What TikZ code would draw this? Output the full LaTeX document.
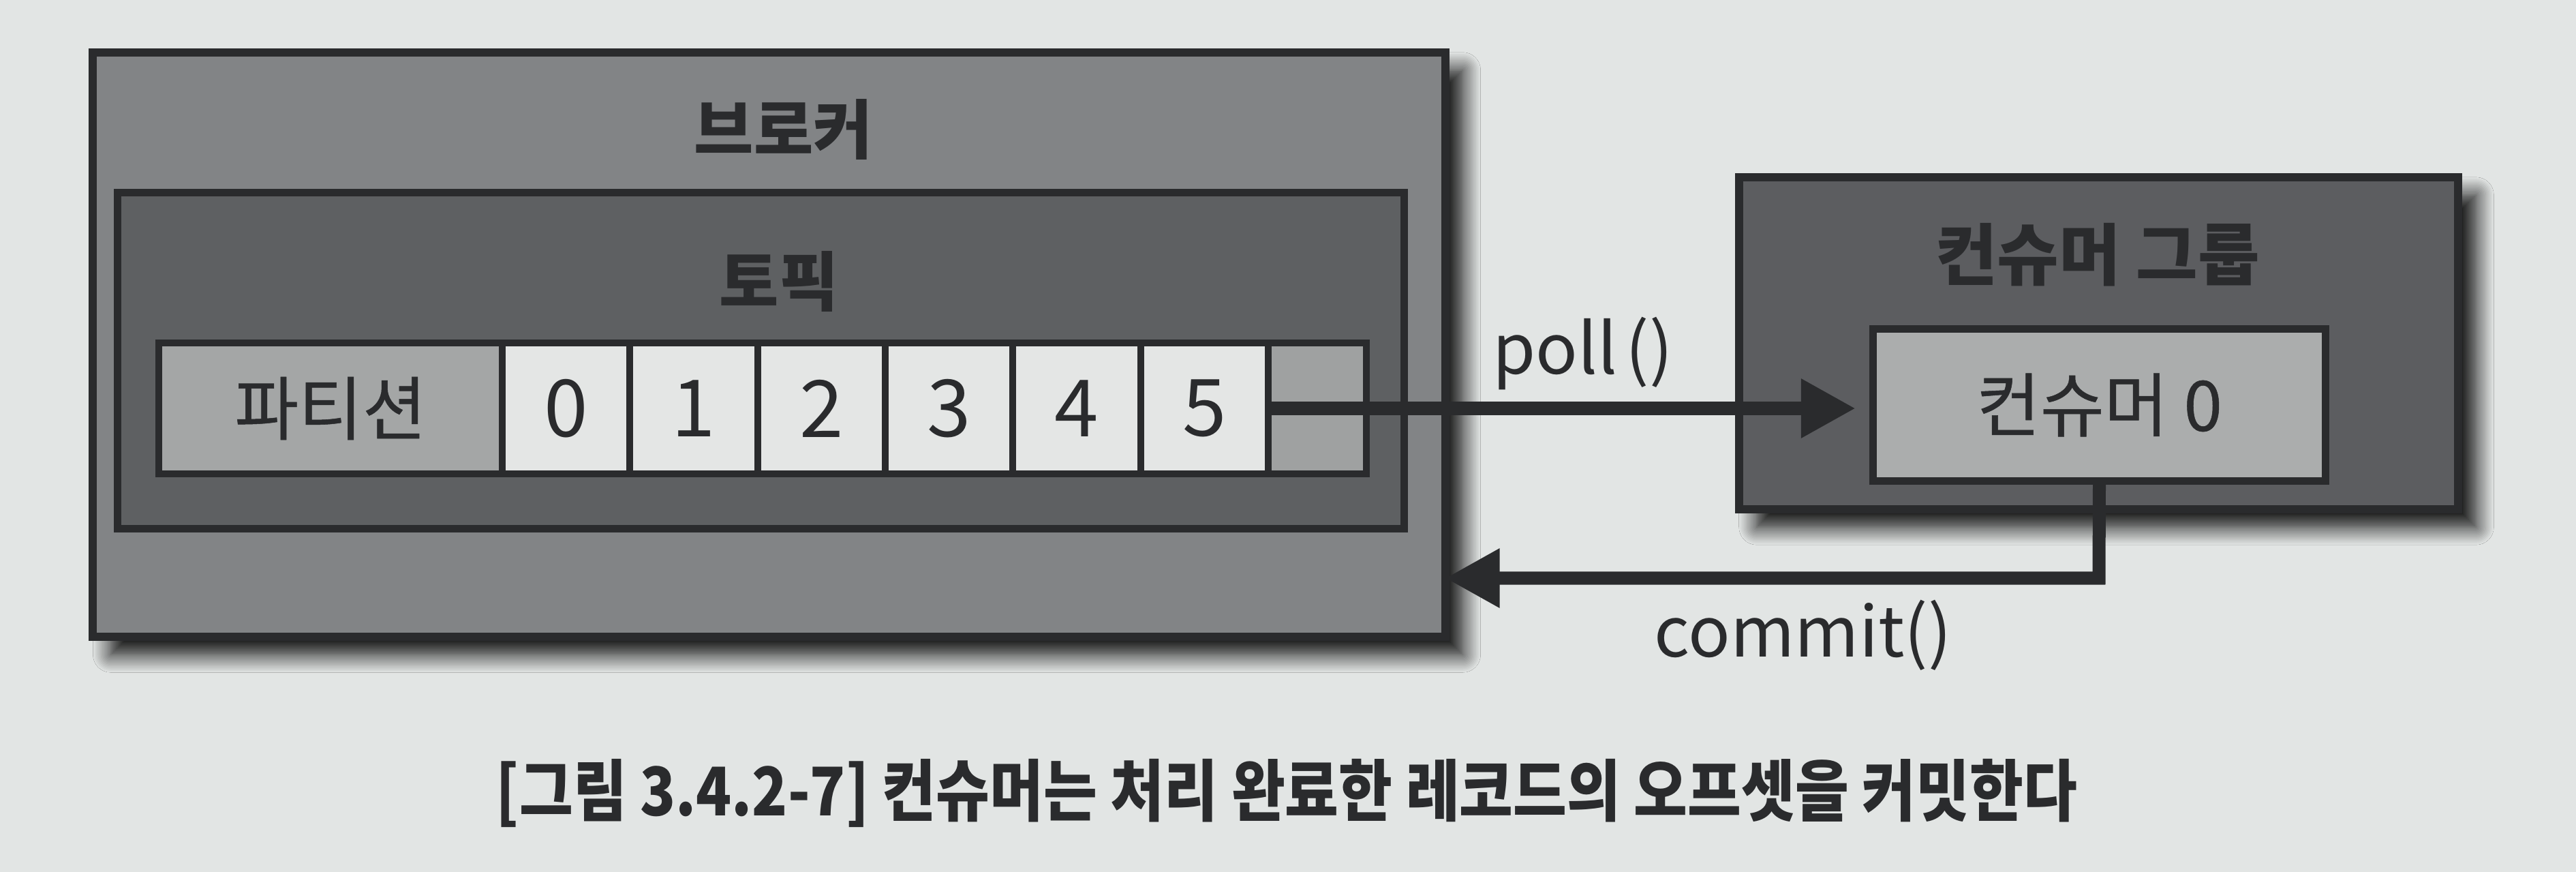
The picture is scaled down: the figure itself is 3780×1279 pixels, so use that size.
\documentclass[tikz,border=0pt]{standalone}
\usepackage{fontspec}
\usepackage{graphicx}
\setmainfont{Noto Sans CJK KR}
\newfontfamily\medfont[FakeBold=0.5]{Noto Sans CJK KR}
\usetikzlibrary{arrows.meta,shadows.blur}
\definecolor{paper}{HTML}{E2E5E4}
\definecolor{ink}{HTML}{2A2B2D}
\definecolor{brokerfill}{HTML}{828486}
\definecolor{topicfill}{HTML}{5E6062}
\definecolor{labelfill}{HTML}{A4A6A6}
\definecolor{cellfill}{HTML}{E4E6E5}
\definecolor{emptyfill}{HTML}{9FA1A1}
\definecolor{groupfill}{HTML}{5C5D60}
\definecolor{consfill}{HTML}{ABADAD}
\begin{document}
\begin{tikzpicture}[x=0.01cm,y=-0.01cm,
  box/.style={draw=ink, inner sep=0pt},
  shad/.style={blur shadow={shadow xshift=0.26cm, shadow yshift=-0.26cm, shadow blur radius=0.26cm, shadow blur steps=12, shadow opacity=95}},
  brokerbox/.style={box, shad, line width=0.12cm, fill=brokerfill, minimum width=19.83cm, minimum height=8.57cm},
  topicbox/.style={box, line width=0.11cm, fill=topicfill, minimum width=18.86cm, minimum height=4.93cm},
  rowcell/.style={box, line width=0.10cm, minimum height=1.92cm},
  groupbox/.style={box, shad, line width=0.12cm, fill=groupfill, minimum width=10.55cm, minimum height=4.87cm},
  consbox/.style={box, line width=0.11cm, fill=consfill, minimum width=6.64cm, minimum height=2.23cm},
  title/.style={text=ink, font=\fontsize{27pt}{30pt}\selectfont\bfseries},
  plain/.style={text=ink, font=\fontsize{29pt}{32pt}\medfont},
  digit/.style={text=ink, font=\fontsize{33pt}{36pt}\selectfont},
  call/.style={text=ink, font=\fontsize{29pt}{34pt}\selectfont},
  conn/.style={draw=ink, line width=0.19cm, -{Triangle[length=0.8cm,width=0.82cm]}}]
% page
\fill[paper] (0,0) rectangle (3780,1279);
% broker
\node[brokerbox] (broker) at (1128.5,505.5) {};
\node[title] (brokerlbl) at (1150,190) {브로커};
% topic
\node[topicbox] (topic) at (1116.5,529) {};
\node[title] (topiclbl) at (1143,413) {토픽};
% partition row
\node[rowcell, fill=labelfill, minimum width=5.04cm] (part) at (485,599) {};
\node[plain] (partlbl) at (part.center) {파티션};
\foreach \i in {0,...,5}{
  \node[rowcell, fill=cellfill, minimum width=1.8733cm] (c\i) at ({830.67+187.33*\i},599) {};
  \node[digit] (d\i) at (c\i.center) {\i};
}
\node[rowcell, fill=emptyfill, minimum width=1.44cm] (cend) at (1933,599) {};
% consumer group
\node[groupbox] (group) at (3079.5,503.5) {};
\node[title, font=\fontsize{28pt}{30pt}\selectfont\bfseries] (grouplbl) at (3078,374) {컨슈머 그룹};
\node[consbox] (cons) at (3080.5,594) {};
\node[plain] (conslbl) at (cons.center) {컨슈머 0};
% connectors
\draw[conn, shorten >=0.2cm] (c5.east) -- (c5.east -| cons.west);
\coordinate (turn) at (3080,848);
\draw[conn, shorten >=-0.06cm] (cons.south) -- (turn) -- (turn -| broker.east);
% labels
\node[call, anchor=base west, inner sep=0pt] (polllbl) at (2190,548) {poll\kern0.12em()};
\node[call, anchor=base west, inner sep=0pt] (commitlbl) at (2427,963) {commit()};
% caption
\node[text=ink, font=\fontsize{28pt}{32pt}\selectfont\bfseries, inner sep=0pt] (caption) at (1888,1163)
  {\scalebox{0.87}[1]{[그림 3.4.2-7] 컨슈머는 처리 완료한 레코드의 오프셋을 커밋한다}};
\end{tikzpicture}
\end{document}
